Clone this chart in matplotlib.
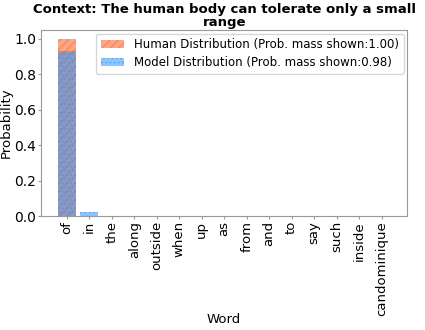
import numpy as np
import matplotlib
matplotlib.use("Agg")
import matplotlib.pyplot as plt

words = ["of", "in", "the", "along", "outside", "when", "up", "as", "from",
         "and", "to", "say", "such", "inside", "candominique"]
human = [1.00, 0, 0, 0, 0, 0, 0, 0, 0, 0, 0, 0, 0, 0, 0]
model = [0.93, 0.025, 0.003, 0.003, 0.003, 0.003, 0.003, 0.003, 0.003,
         0.003, 0.003, 0.003, 0.003, 0.003, 0.003]

fig, ax = plt.subplots(figsize=(4.25, 3.3), dpi=100)
x = np.arange(len(words))
ax.bar(x, human, color="coral", alpha=0.7, hatch="////", edgecolor="#f08050",
       linewidth=0, label="Human Distribution (Prob. mass shown:1.00)")
ax.bar(x, model, color="dodgerblue", alpha=0.5, hatch="....", edgecolor="#4a90e0",
       linewidth=0, label="Model Distribution (Prob. mass shown:0.98)")

ax.set_xticks(x)
ax.set_xticklabels(words, rotation=90, fontsize=9.5)
ax.set_yticks([0.0, 0.2, 0.4, 0.6, 0.8, 1.0])
ax.tick_params(axis="y", labelsize=10)
ax.tick_params(length=2, pad=1.5, color="#999999")
ax.set_xlabel("Word", fontsize=9.5, labelpad=-2)
ax.set_ylabel("Probability", fontsize=9.5, labelpad=1)
ax.set_title("Context: The human body can tolerate only a small\nrange",
             fontsize=9.5, fontweight="bold", pad=3, linespacing=1.0)
ax.legend(loc="upper right", fontsize=8.5, borderaxespad=0.3, labelspacing=0.4)
for s in ax.spines.values():
    s.set_color("#999999")

plt.subplots_adjust(left=0.097, right=0.958, top=0.909, bottom=0.345)
plt.savefig("out.png")
